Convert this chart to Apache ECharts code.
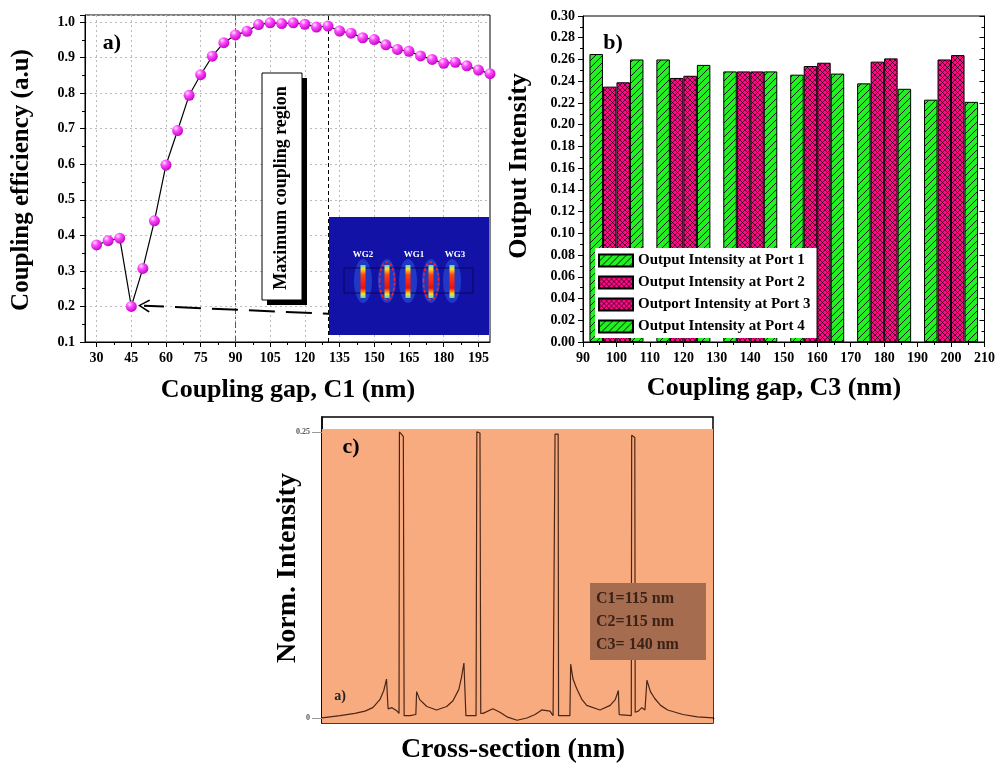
<!DOCTYPE html>
<html lang="en">
<head>
<meta charset="UTF-8">
<title>Coupling gap analysis</title>
<script src="https://cdn.jsdelivr.net/npm/echarts@6/dist/echarts.min.js"></script>
<style>
    html, body { margin: 0; padding: 0; background: #fff; }
    #main { width: 998px; height: 765px; }
</style>
</head>
<body>
<div id="main"></div>
<script type="text/javascript">
    // ---- a) coupling efficiency vs gap C1
    var gapC1 = [30, 35, 40, 45, 50, 55, 60, 65, 70, 75, 80, 85, 90, 95, 100, 105, 110, 115,
                 120, 125, 130, 135, 140, 145, 150, 155, 160, 165, 170, 175, 180, 185, 190, 195, 200];
    var effC1 = [0.373, 0.385, 0.392, 0.200, 0.307, 0.441, 0.598, 0.695, 0.794, 0.852, 0.904, 0.942,
                 0.964, 0.974, 0.993, 0.998, 0.996, 0.998, 0.994, 0.986, 0.989, 0.975, 0.969, 0.956,
                 0.951, 0.936, 0.923, 0.918, 0.905, 0.895, 0.884, 0.887, 0.877, 0.865, 0.855];
    var ticksC1 = [30, 45, 60, 75, 90, 105, 120, 135, 150, 165, 180, 195];
    var minorC1 = [37.5, 52.5, 67.5, 82.5, 97.5, 112.5, 127.5, 142.5, 157.5, 172.5, 187.5];

    // ---- b) output intensity per port vs gap C3
    var gapC3 = [100, 120, 140, 160, 180, 200];
    var port1 = [0.265, 0.260, 0.249, 0.246, 0.238, 0.223];
    var port2 = [0.235, 0.243, 0.249, 0.254, 0.258, 0.260];
    var port3 = [0.239, 0.245, 0.249, 0.257, 0.261, 0.264];
    var port4 = [0.260, 0.255, 0.249, 0.247, 0.233, 0.221];
    var portNames = ['Output Intensity at Port 1', 'Output Intensity at Port 2',
                     'Outport Intensity at Port 3', 'Output Intensity at Port 4'];

    // ---- c) normalised intensity across the section
    var crossX = [0, 46, 84, 110, 130, 148, 158, 165, 169, 179, 192, 197, 198, 208, 210, 225, 240,
                  242, 250, 268, 293, 319, 335, 350, 357, 363, 368, 394, 396, 404, 406, 412, 437,
                  455, 473, 499, 524, 545, 562, 583, 591, 594, 596, 604, 605, 634, 636, 642, 651,
                  665, 677, 711, 737, 750, 758, 760, 791, 792, 800, 801, 809, 818, 826, 831, 840,
                  851, 866, 884, 923, 960, 1000];
    var normI = [0.000, 0.002, 0.004, 0.006, 0.009, 0.016, 0.024, 0.034, 0.008, 0.009, 0.006, 0.004,
                 0.250, 0.246, 0.002, 0.002, 0.003,
                 0.023, 0.016, 0.010, 0.007, 0.010, 0.015, 0.025, 0.036, 0.048, 0.002, 0.002, 0.250,
                 0.249, 0.004, 0.004, 0.008,
                 0.005, 0.001, -0.002, 0.000, 0.003, 0.007, 0.006, 0.002, 0.002, 0.248, 0.248, 0.002,
                 0.002, 0.047, 0.034, 0.026,
                 0.016, 0.011, 0.007, 0.011, 0.016, 0.024, 0.003, 0.002, 0.247, 0.245, 0.005, 0.006,
                 0.009, 0.007, 0.033, 0.023,
                 0.017, 0.011, 0.007, 0.003, 0.001, 0.000];

    var FONT = '"Liberation Serif", "Times New Roman", serif';

    // fill patterns for the bars
    function hatch() {
        var c = document.createElement('canvas');
        c.width = 7; c.height = 7;
        var g = c.getContext('2d');
        g.fillStyle = '#22f022';
        g.fillRect(0, 0, 7, 7);
        g.strokeStyle = '#000';
        g.lineWidth = 0.9;
        g.beginPath();
        [0, 7, 14].forEach(function (k) { g.moveTo(k - 8, 8); g.lineTo(k + 1, -1); });
        g.stroke();
        return c;
    }
    function cross() {
        var c = document.createElement('canvas');
        c.width = 5; c.height = 5;
        var g = c.getContext('2d');
        g.fillStyle = '#ff0a86';
        g.fillRect(0, 0, 5, 5);
        g.strokeStyle = 'rgba(0,0,0,0.8)';
        g.lineWidth = 0.8;
        g.beginPath();
        [0, 5, 10].forEach(function (k) {
            g.moveTo(k - 6, 6); g.lineTo(k + 1, -1);
            g.moveTo(k - 6, -1); g.lineTo(k + 1, 6);
        });
        g.stroke();
        return c;
    }
    var greenFill = {image: hatch(), repeat: 'repeat'};
    var pinkFill = {image: cross(), repeat: 'repeat'};

    function pairs(xs, ys) {
        return xs.map(function (x, i) { return [x, ys[i]]; });
    }
    function txt(s, x, y, size, rot, color, align) {
        return {
            type: 'text', x: x, y: y, rotation: rot || 0, z: 100,
            style: {
                text: s, font: 'bold ' + size + 'px ' + FONT, fill: color || '#000',
                align: align || 'center', verticalAlign: 'middle'
            }
        };
    }

    var labelStyle = {color: '#000', fontFamily: FONT, fontWeight: 'bold', fontSize: 14};

    var sphere = {
        type: 'radial', x: 0.35, y: 0.3, r: 0.75,
        colorStops: [
            {offset: 0, color: '#ffe8ff'},
            {offset: 0.35, color: '#ff4dff'},
            {offset: 1, color: '#c000c0'}
        ]
    };
    var wgFill = {
        type: 'linear', x: 0, y: 0, x2: 0, y2: 1,
        colorStops: [
            {offset: 0, color: '#30e0ff'},
            {offset: 0.12, color: '#ffe020'},
            {offset: 0.3, color: '#ff4010'},
            {offset: 0.7, color: '#e81010'},
            {offset: 0.88, color: '#ffe020'},
            {offset: 1, color: '#30e0ff'}
        ]
    };

    // inset of the waveguide field (decoration)
    var wgX = [363, 387, 408, 431, 452];
    var inset = [
        {type: 'rect', z: 90, shape: {x: 329, y: 217, width: 160, height: 118}, style: {fill: '#1212a6'}}
    ];
    wgX.forEach(function (x) {
        inset.push({type: 'ellipse', z: 91, shape: {cx: x, cy: 281, rx: 9, ry: 22},
            style: {fill: 'rgba(60,130,255,0.35)'}});
    });
    inset.push({type: 'rect', z: 92, shape: {x: 344, y: 268, width: 129, height: 25},
        style: {fill: 'none', stroke: '#06065a', lineWidth: 1}});
    wgX.forEach(function (x) {
        inset.push({type: 'rect', z: 93, shape: {x: x - 2.5, y: 265, width: 5, height: 33},
            style: {fill: wgFill}});
    });
    [387, 431].forEach(function (x) {
        inset.push({type: 'ellipse', z: 94, shape: {cx: x, cy: 281, rx: 7.5, ry: 19},
            style: {fill: 'none', stroke: '#ff2020', lineWidth: 1.5, lineDash: [3, 2]}});
    });
    inset.push(txt('WG2', 363, 255, 9, 0, '#fff'));
    inset.push(txt('WG1', 414, 255, 9, 0, '#fff'));
    inset.push(txt('WG3', 455, 255, 9, 0, '#fff'));

    var graphics = [
        // panel titles
        txt('Coupling efficiency (a.u)', 22, 180, 25, Math.PI / 2),
        txt('Coupling gap, C1 (nm)', 288, 390, 26),
        txt('a)', 112, 43, 22),
        txt('Output Intensity', 519, 166, 26, Math.PI / 2),
        txt('Coupling gap, C3 (nm)', 774, 388, 26),
        txt('b)', 613, 43, 22),
        txt('Norm. Intensity', 288, 568, 28, Math.PI / 2),
        txt('Cross-section (nm)', 513, 750, 28),
        txt('c)', 351, 447, 22),
        txt('a)', 340, 696, 14, 0, '#222'),
        // "Maximum coupling region" box
        {type: 'rect', z: 95, shape: {x: 267, y: 78, width: 40, height: 227}, style: {fill: '#000'}},
        {type: 'rect', z: 96, shape: {x: 262, y: 73, width: 40, height: 227},
            style: {fill: '#fff', stroke: '#000', lineWidth: 1}},
        txt('Maximum coupling region', 281, 188, 18, Math.PI / 2),
        // parameter box in panel c
        {type: 'rect', z: 95, shape: {x: 590, y: 583, width: 116, height: 77}, style: {fill: '#a66c4f'}},
        txt('C1=115 nm', 596, 599, 16, 0, '#3a2216', 'left'),
        txt('C2=115 nm', 596, 622, 16, 0, '#3a2216', 'left'),
        txt('C3= 140 nm', 596, 645, 16, 0, '#3a2216', 'left')
    ].concat(inset);

    var chart = echarts.init(document.getElementById('main'));
    var option = {
        animation: false,
        grid: [
            {left: 85, top: 15, width: 405, height: 327, show: true, borderColor: '#000', borderWidth: 1},
            {left: 583, top: 16, width: 406, height: 326, show: true, borderColor: '#000', borderWidth: 1},
            {left: 322, top: 417, width: 391, height: 306, show: true, borderColor: '#000', borderWidth: 1.5}
        ],
        legend: {
            left: 595, top: 248, orient: 'vertical',
            itemWidth: 34, itemHeight: 12, itemGap: 7,
            padding: [5, 6, 4, 3],
            backgroundColor: '#fff',
            icon: 'rect',
            data: portNames,
            textStyle: {color: '#000', fontFamily: FONT, fontWeight: 'bold', fontSize: 15}
        },
        xAxis: [
            {
                gridIndex: 0, type: 'value', min: 25, max: 200,
                axisLine: {show: true, lineStyle: {color: '#000'}},
                axisTick: {customValues: ticksC1, length: 5, lineStyle: {color: '#000'}},
                axisLabel: Object.assign({customValues: ticksC1, margin: 9}, labelStyle),
                splitLine: {show: true, lineStyle: {color: '#bbb', type: [2, 3]}}
            },
            {
                gridIndex: 0, type: 'value', min: 25, max: 200, position: 'bottom',
                axisLine: {show: false},
                axisTick: {customValues: minorC1, length: 3, lineStyle: {color: '#000'}},
                axisLabel: {show: false},
                splitLine: {show: false}
            },
            {
                gridIndex: 1, type: 'value', min: 90, max: 210, interval: 10,
                axisLine: {show: true, lineStyle: {color: '#000'}},
                axisTick: {length: 5, lineStyle: {color: '#000'}},
                minorTick: {show: true, splitNumber: 2, length: 3, lineStyle: {color: '#000'}},
                axisLabel: Object.assign({margin: 9}, labelStyle),
                splitLine: {show: false}
            },
            {
                gridIndex: 2, type: 'value', min: 0, max: 1000,
                axisLine: {show: true, lineStyle: {color: '#000', width: 2.5}},
                axisTick: {show: false},
                axisLabel: {show: false},
                splitLine: {show: false}
            }
        ],
        yAxis: [
            {
                gridIndex: 0, type: 'value', min: 0.1, max: 1.02, interval: 0.1,
                axisLine: {show: true, lineStyle: {color: '#000'}},
                axisTick: {length: 5, lineStyle: {color: '#000'}},
                minorTick: {show: true, splitNumber: 2, length: 3, lineStyle: {color: '#000'}},
                axisLabel: Object.assign({margin: 10, showMaxLabel: false,
                    formatter: function (v) { return v.toFixed(1); }}, labelStyle),
                splitLine: {show: true, lineStyle: {color: '#bbb', type: [2, 3]}}
            },
            {
                gridIndex: 1, type: 'value', min: 0, max: 0.3, interval: 0.02,
                axisLine: {show: true, lineStyle: {color: '#000'}},
                axisTick: {length: 5, lineStyle: {color: '#000'}},
                minorTick: {show: true, splitNumber: 2, length: 3, lineStyle: {color: '#000'}},
                axisLabel: Object.assign({margin: 8,
                    formatter: function (v) { return v.toFixed(2); }}, labelStyle),
                splitLine: {show: false}
            },
            {
                gridIndex: 1, type: 'value', min: 0, max: 0.3, interval: 0.02, position: 'right',
                axisLine: {show: true, lineStyle: {color: '#000'}},
                axisTick: {inside: true, length: 5, lineStyle: {color: '#000'}},
                minorTick: {show: true, splitNumber: 2, length: 3, lineStyle: {color: '#000'}},
                axisLabel: {show: false},
                splitLine: {show: false}
            },
            {
                gridIndex: 2, type: 'value', min: -0.0044, max: 0.263,
                axisLine: {show: true, lineStyle: {color: '#000', width: 1.5}},
                axisTick: {customValues: [0, 0.25], length: 10, lineStyle: {color: '#999'}},
                axisLabel: {customValues: [0, 0.25], margin: 12, color: '#555',
                    fontFamily: FONT, fontWeight: 'bold', fontSize: 8},
                splitLine: {show: false}
            }
        ],
        series: [
            {
                name: 'Coupling efficiency', type: 'line',
                xAxisIndex: 0, yAxisIndex: 0,
                data: pairs(gapC1, effC1),
                symbol: 'circle', symbolSize: 11,
                lineStyle: {color: '#000', width: 1.2},
                itemStyle: {color: sphere},
                z: 5,
                markLine: {
                    silent: true, symbol: 'none', label: {show: false},
                    data: [
                        {xAxis: 90, lineStyle: {color: '#555', width: 1, type: [6, 3, 2, 3]}},
                        {xAxis: 130, lineStyle: {color: '#000', width: 1, type: [4, 3]}},
                        [
                            {coord: [139, 0.177], symbol: 'none'},
                            {coord: [50.5, 0.202], symbol: 'path://M0,0 L11,14 L9,15.5 L0,3.5 L-9,15.5 L-11,14 Z',
                                symbolSize: [13, 12],
                                lineStyle: {color: '#000', width: 2, type: [26, 11]}}
                        ]
                    ]
                }
            },
            {
                name: portNames[0], type: 'bar', xAxisIndex: 2, yAxisIndex: 1,
                data: pairs(gapC3, port1), barWidth: 13.5, barGap: '0%',
                itemStyle: {color: greenFill, borderColor: '#000', borderWidth: 1}
            },
            {
                name: portNames[1], type: 'bar', xAxisIndex: 2, yAxisIndex: 1,
                data: pairs(gapC3, port2), barWidth: 13.5, barGap: '0%',
                itemStyle: {color: pinkFill, borderColor: '#000', borderWidth: 1}
            },
            {
                name: portNames[2], type: 'bar', xAxisIndex: 2, yAxisIndex: 1,
                data: pairs(gapC3, port3), barWidth: 13.5, barGap: '0%',
                itemStyle: {color: pinkFill, borderColor: '#000', borderWidth: 1}
            },
            {
                name: portNames[3], type: 'bar', xAxisIndex: 2, yAxisIndex: 1,
                data: pairs(gapC3, port4), barWidth: 13.5, barGap: '0%',
                itemStyle: {color: greenFill, borderColor: '#000', borderWidth: 1}
            },
            {
                name: 'Norm. Intensity', type: 'line', xAxisIndex: 3, yAxisIndex: 3,
                data: pairs(crossX, normI),
                symbol: 'none',
                lineStyle: {color: '#4a2614', width: 1.2},
                markArea: {
                    silent: true,
                    itemStyle: {color: '#f9ab80'},
                    data: [[{yAxis: -0.0044}, {yAxis: 0.2526}]]
                }
            }
        ],
        graphic: graphics
    };
    chart.setOption(option);
</script>
</body>
</html>
